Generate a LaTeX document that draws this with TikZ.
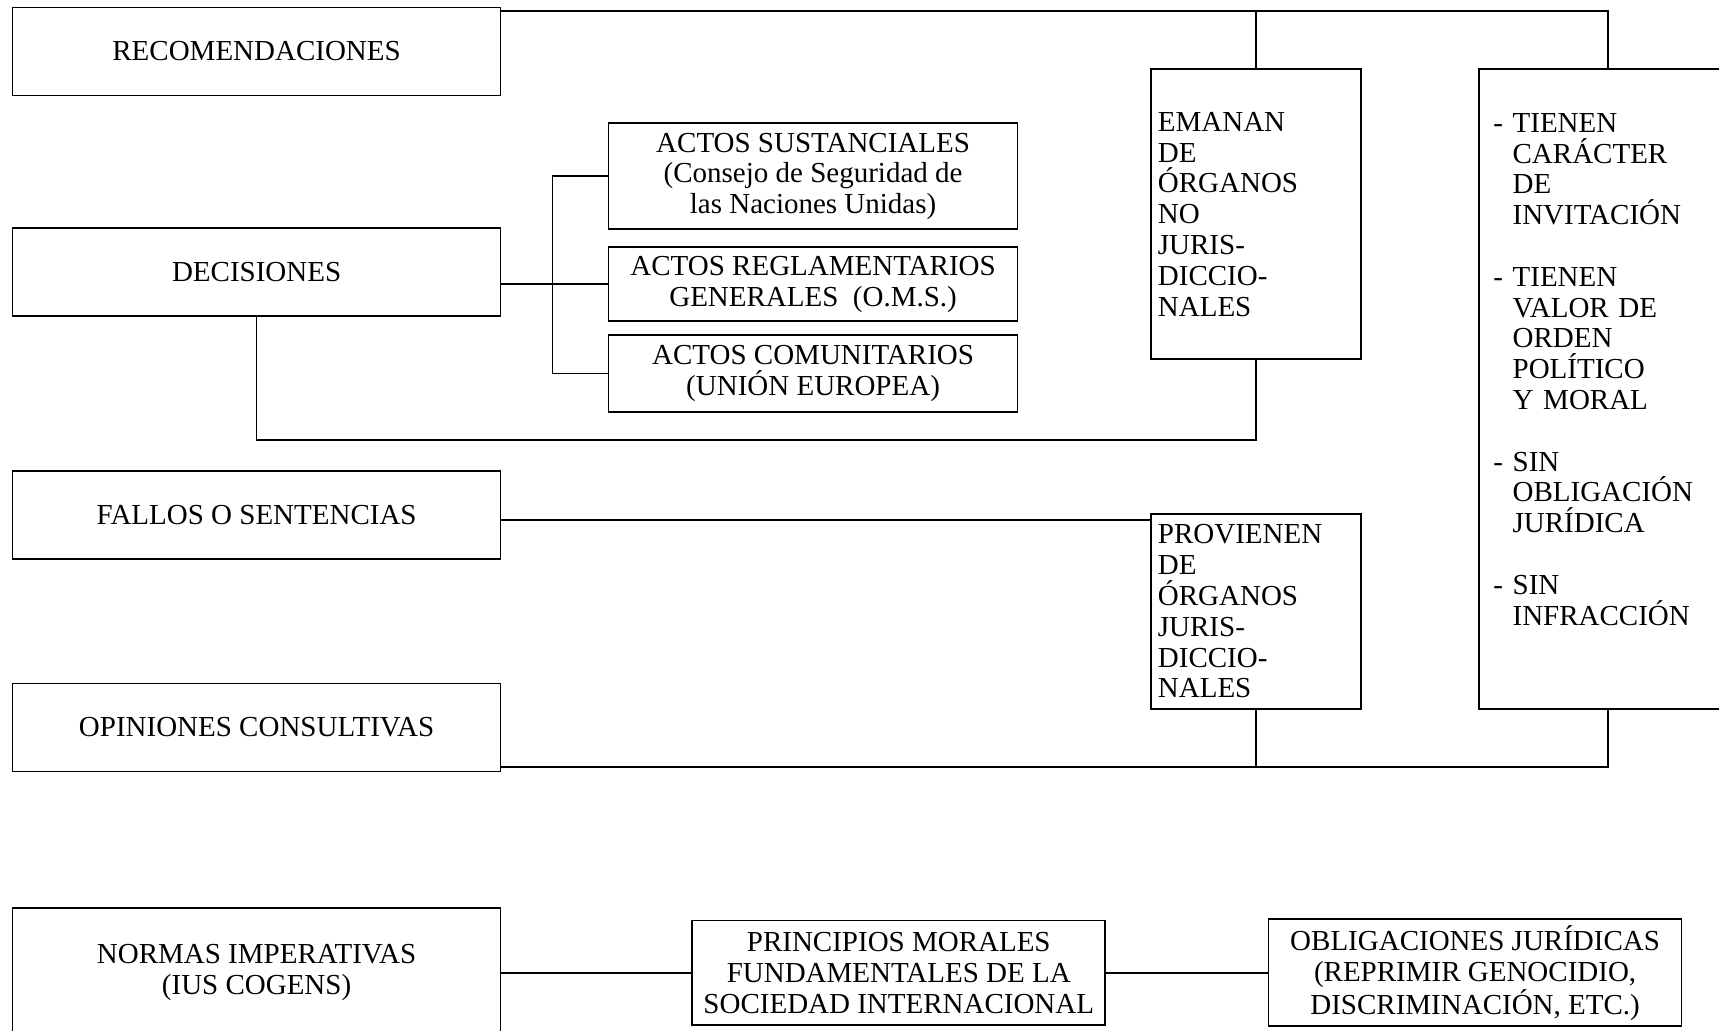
\documentclass[tikz,border=0pt]{standalone}
\usepackage{fontspec}
\setmainfont{Liberation Serif}
\usetikzlibrary{positioning}
\tikzset{
  font=\fontsize{14.5pt}{15.4pt}\selectfont
}
\newcommand{\sangria}{\hphantom{- }}

\begin{document}
\begin{tikzpicture}[line width=0.85pt,
  caja/.style={rectangle,draw,outer sep=0pt,inner xsep=3.5pt,inner ysep=3pt,align=center},
  tipo/.style={caja,minimum width=244pt,minimum height=44pt},
  acto/.style={caja,minimum width=204.5pt},
  organo/.style={caja,text width=98pt,align=left},
  norma/.style={caja,minimum width=206.5pt,minimum height=52.2pt}]
\useasboundingbox (0,0) rectangle (859.5pt,-515.5pt);
\node[tipo,anchor=north west] (REC) at (6.3pt,-3.75pt) {RECOMENDACIONES};
\node[tipo] (DEC) [below=66.1pt of REC] {DECISIONES};
\node[tipo] (FAL) [below=77.8pt of DEC] {FALLOS O SENTENCIAS};
\node[tipo] (OPI) [below=62.1pt of FAL] {OPINIONES CONSULTIVAS};
\node[tipo,minimum height=65pt] (NOR) [below=68.15pt of OPI] {NORMAS IMPERATIVAS\\(IUS COGENS)};
\node[acto,minimum height=53pt] (SUST) [below right=13.9pt and 54pt of REC] {ACTOS SUSTANCIALES\\(Consejo de Seguridad de\\las Naciones Unidas)};
\node[acto,minimum height=37.15pt] (REG) [below=8.85pt of SUST] {ACTOS REGLAMENTARIOS\\GENERALES~~(O.M.S.)};
\node[acto,minimum height=38.2pt] (COM) [below=7pt of REG] {ACTOS COMUNITARIOS\\(UNIÓN EUROPEA)};
\node[organo,minimum height=145pt] (EMA) [below right=30.9pt and 325.15pt of REC.north east] {EMANAN\\DE\\ÓRGANOS\\NO\\JURIS-\\DICCIO-\\NALES};
\node[organo,minimum height=97.8pt] (PRO) [below=77.2pt of EMA] {PROVIENEN\\DE\\ÓRGANOS\\JURIS-\\DICCIO-\\NALES};
\node[caja,align=left,text width=115pt,inner xsep=7pt,inner ysep=22pt,text depth=266.5pt] (TIE) [right=59.2pt of EMA.north east,anchor=north west] {- TIENEN\\\sangria CARÁCTER\\\sangria DE\\\sangria INVITACIÓN\\[15.4pt]- TIENEN\\\sangria VALOR DE\\\sangria ORDEN\\\sangria POLÍTICO\\\sangria Y MORAL\\[15.4pt]- SIN\\\sangria OBLIGACIÓN\\\sangria JURÍDICA\\[15.4pt]- SIN\\\sangria INFRACCIÓN};
\node[norma] (PRIN) [right=95.85pt of NOR] {PRINCIPIOS MORALES\\FUNDAMENTALES DE LA\\SOCIEDAD INTERNACIONAL};
\node[norma] (OBL) [right=81.65pt of PRIN] {OBLIGACIONES JURÍDICAS\\(REPRIMIR GENOCIDIO,\\DISCRIMINACIÓN, ETC.)};
\coordinate (rectop) at ([yshift=-1.75pt]REC.north east);
\coordinate (falend) at ([yshift=-2.2pt]FAL.east);
\coordinate (opiend) at ([yshift=2.2pt]OPI.south east);
\draw (rectop) -| (TIE.north);
\draw (EMA.north) -- (EMA.north |- rectop);
\draw (REG.west -| DEC.east) -- (REG.west);
\draw (SUST.west) -- ++(-28pt,0) |- (COM.west);
\draw (DEC.south) -- ++(0,-62pt) -| (EMA.south);
\draw (falend) -- (falend -| PRO.west);
\draw (opiend) -| (TIE.south);
\draw (PRO.south) -- (PRO.south |- opiend);
\draw (PRIN.west -| NOR.east) -- (PRIN.west);
\draw (PRIN.east) -- (OBL.west);
\end{tikzpicture}
\end{document}
